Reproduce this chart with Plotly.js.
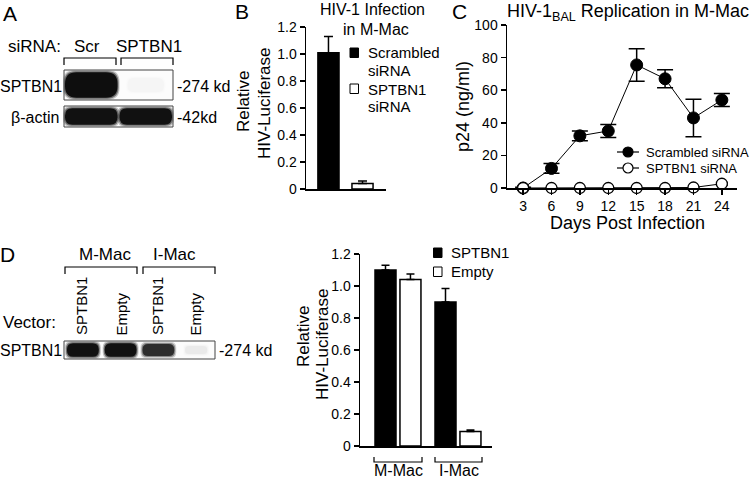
<!DOCTYPE html>
<html><head><meta charset="utf-8">
<script src="https://cdn.plot.ly/plotly-3.0.1.min.js"></script>
<style>html,body{margin:0;padding:0;background:#fff}#chart{width:752px;height:480px}</style>
</head><body><div id="chart"></div>
<script>
// ---------- data ----------
const bCategories = ['Scrambled siRNA', 'SPTBN1 siRNA'];
const bValues = [1.01, 0.04];
const bErrors = [0.12, 0.02];
const bTickVals = [0, 0.2, 0.4, 0.6, 0.8, 1.0, 1.2];
const bTickText = ['0', '0.2', '0.4', '0.6', '0.8', '1.0', '1.2'];

const cDays = [3, 6, 9, 12, 15, 18, 21, 24];
const cScrambled = [0, 12, 32, 35, 75.5, 67, 43, 54];
const cScrambledErr = [0.5, 3, 3, 4, 10, 5.5, 11.5, 4];
const cSptbn1 = [0, 0, 0, 0, 0, 0, 0.3, 2.6];
const cSptbn1Err = [0, 0, 0, 0, 0, 0, 0, 0.8];
const cTickVals = [0, 20, 40, 60, 80, 100];

const dGroups = ['M-Mac', 'I-Mac'];
const dSptbn1 = [1.10, 0.90];
const dSptbn1Err = [0.03, 0.085];
const dEmpty = [1.04, 0.09];
const dEmptyErr = [0.035, 0.01];

const blotALanes = ['Scr', 'SPTBN1'];
const blotASptbn1 = [0.95, 0.015];
const blotAActin = [0.93, 0.93];
const blotDLanes = ['SPTBN1', 'Empty', 'SPTBN1', 'Empty'];
const blotDSptbn1 = [0.93, 0.93, 0.72, 0.04];

// ---------- helpers ----------
const W = 752, H = 480;
const X = x => x / W;
const Y = y => 1 - y / H;
const FONT = 'Liberation Sans, Arial, sans-serif';
const annotations = [];
const shapes = [];
function txt(text, x, y, size, opt) {
  annotations.push(Object.assign({
    text: text, x: X(x), y: Y(y), xref: 'paper', yref: 'paper',
    showarrow: false, xanchor: 'center', yanchor: 'middle',
    font: {family: FONT, size: size, color: '#000'}
  }, opt || {}));
}
function rr(x0, y0, x1, y1, r) {
  r = Math.min(r, (x1 - x0) / 2, (y1 - y0) / 2);
  const p = (a, b) => X(a).toFixed(5) + ',' + Y(b).toFixed(5);
  return 'M' + p(x0 + r, y0) + ' L' + p(x1 - r, y0) + ' Q' + p(x1, y0) + ' ' + p(x1, y0 + r) +
    ' L' + p(x1, y1 - r) + ' Q' + p(x1, y1) + ' ' + p(x1 - r, y1) +
    ' L' + p(x0 + r, y1) + ' Q' + p(x0, y1) + ' ' + p(x0, y1 - r) +
    ' L' + p(x0, y0 + r) + ' Q' + p(x0, y0) + ' ' + p(x0 + r, y0) + ' Z';
}
function blot(x0, x1, y0, y1, intensities, pad) {
  const n = intensities.length;
  const lw = (x1 - x0) / n;
  shapes.push({type: 'rect', xref: 'paper', yref: 'paper', x0: X(x0), x1: X(x1), y0: Y(y0), y1: Y(y1),
    fillcolor: '#fcfcfc', line: {width: 0}, layer: 'below'});
  intensities.forEach((v, i) => {
    const cx = x0 + lw * (i + 0.5);
    const halfW = (lw / 2 - pad) * (v < 0.1 ? 0.7 : 1);
    const cy = (y0 + y1) / 2;
    const halfH = ((y1 - y0) / 2 - 2) * (0.55 + 0.45 * v);
    [[2.0, 0.25], [1.0, 0.5], [0, 1]].forEach(([inf, op]) => {
      shapes.push({type: 'path', xref: 'paper', yref: 'paper',
        path: rr(cx - halfW - inf, cy - halfH - inf, cx + halfW + inf, cy + halfH + inf, halfH * 0.9),
        fillcolor: 'rgba(10,10,10,' + (v * op).toFixed(3) + ')', line: {width: 0}, layer: 'below'});
    });
  });
  shapes.push({type: 'rect', xref: 'paper', yref: 'paper', x0: X(x0), x1: X(x1), y0: Y(y0), y1: Y(y1),
    fillcolor: 'rgba(0,0,0,0)', line: {color: '#444', width: 1}});
}
function bracketDown(x0, x1, yTop, yBot) {
  shapes.push({type: 'path', xref: 'paper', yref: 'paper',
    path: 'M' + X(x0) + ',' + Y(yBot) + ' L' + X(x0) + ',' + Y(yTop) + ' L' + X(x1) + ',' + Y(yTop) + ' L' + X(x1) + ',' + Y(yBot),
    line: {color: '#000', width: 1.2}});
}
function bracketUp(x0, x1, yTop, yBot) {
  shapes.push({type: 'path', xref: 'paper', yref: 'paper',
    path: 'M' + X(x0) + ',' + Y(yTop) + ' L' + X(x0) + ',' + Y(yBot) + ' L' + X(x1) + ',' + Y(yBot) + ' L' + X(x1) + ',' + Y(yTop),
    line: {color: '#000', width: 1.2}});
}

// ---------- panel A (blot) ----------
txt('A', 10, 13, 21);
txt('siRNA:', 34, 46, 17);
txt(blotALanes[0], 87, 46, 17);
txt(blotALanes[1], 149, 46, 17);
bracketDown(64, 116, 58, 65);
bracketDown(121, 173, 58, 65);
blot(64, 173, 70, 100, blotASptbn1, 1);
blot(64, 173, 106, 127, blotAActin, 1);
txt('SPTBN1', 31, 86, 16);
txt('β-actin', 35, 117, 16);
txt('-274 kd', 175, 86, 16, {xanchor: 'left'});
txt('-42kd', 175, 117, 16, {xanchor: 'left'});

// ---------- panel B ----------
txt('B', 242, 11, 21);
txt('HIV-1 Infection', 372, 9, 16);
txt('in M-Mac', 376, 29, 16);
txt('Relative', 243, 102, 17, {textangle: -90});
txt('HIV-Luciferase', 264, 103, 17, {textangle: -90});
// legend B
shapes.push({type: 'rect', xref: 'paper', yref: 'paper', x0: X(350), x1: X(358.5), y0: Y(48), y1: Y(57.5), fillcolor: '#000', line: {color: '#000', width: 1}});
shapes.push({type: 'rect', xref: 'paper', yref: 'paper', x0: X(350), x1: X(358.5), y0: Y(84), y1: Y(93.5), fillcolor: '#fff', line: {color: '#000', width: 1}});
txt('Scrambled', 366, 53, 15, {xanchor: 'left'});
txt('siRNA', 366, 70, 15, {xanchor: 'left'});
txt('SPTBN1', 366, 89, 15, {xanchor: 'left'});
txt('siRNA', 366, 106, 15, {xanchor: 'left'});

// ---------- panel C ----------
txt('C', 459, 11, 21);
txt('HIV-1<sub>BAL</sub> Replication in M-Mac', 505, 12, 18, {xanchor: 'left'});
txt('p24 (ng/ml)', 463, 107, 18, {textangle: -90});
txt('Days Post Infection', 627, 223, 18);
// legend C
[[152, '#000', 'Scrambled siRNA'], [168, '#fff', 'SPTBN1 siRNA']].forEach(([yy, fc, label]) => {
  shapes.push({type: 'line', xref: 'paper', yref: 'paper', x0: X(617), x1: X(639), y0: Y(yy), y1: Y(yy), line: {color: '#000', width: 1.2}});
  shapes.push({type: 'circle', xref: 'paper', yref: 'paper', x0: X(623), x1: X(633), y0: Y(yy - 5), y1: Y(yy + 5), fillcolor: fc, line: {color: '#000', width: 1.2}});
  txt(label, 644, yy, 13, {xanchor: 'left'});
});

// ---------- panel D (blot) ----------
txt('D', 7, 254, 21);
txt('M-Mac', 105, 254, 17);
txt('I-Mac', 174, 254, 17);
bracketDown(65, 137, 267, 274);
bracketDown(143, 215, 267, 274);
const laneCenters = [81, 121, 157, 195];
blotDLanes.forEach((l, i) => {
  txt(l, laneCenters[i], 337, 15, {textangle: -90, yanchor: 'bottom'});
});
txt('Vector:', 29, 322, 17);
blot(64, 215, 341, 359, blotDSptbn1, 3);
txt('SPTBN1', 31, 350, 16);
txt('-274 kd', 217, 350, 16, {xanchor: 'left'});

// ---------- panel D (chart) ----------
txt('Relative', 303, 337, 17, {textangle: -90});
txt('HIV-Luciferase', 322, 344, 17, {textangle: -90});
shapes.push({type: 'rect', xref: 'paper', yref: 'paper', x0: X(433.5), x1: X(442), y0: Y(248), y1: Y(257.5), fillcolor: '#000', line: {color: '#000', width: 1}});
shapes.push({type: 'rect', xref: 'paper', yref: 'paper', x0: X(433.5), x1: X(442), y0: Y(267), y1: Y(276.5), fillcolor: '#fff', line: {color: '#000', width: 1}});
txt('SPTBN1', 449, 252, 15, {xanchor: 'left'});
txt('Empty', 449, 271, 15, {xanchor: 'left'});
// group brackets below x axis
[[374, 422], [435, 482]].forEach(([a, b], i) => {
  bracketUp(a, b, 457, 462);
  txt(dGroups[i], (a + b) / 2, 470, 16);
});

// ---------- traces ----------
const axisCommon = {
  showline: true, linecolor: '#000', linewidth: 1.5, showgrid: false, zeroline: false,
  ticks: 'outside', ticklen: 5, tickwidth: 1.5, tickcolor: '#000',
  tickfont: {family: FONT, size: 14, color: '#000'}, fixedrange: true
};
const traces = [
  {type: 'bar', x: [0, 1], y: bValues, xaxis: 'x', yaxis: 'y', width: 0.62,
    name: 'B', text: bCategories, hoverinfo: 'text+y', textposition: 'none',
    marker: {color: ['#000', '#fff'], line: {color: '#000', width: 1.5}},
    error_y: {type: 'data', array: bErrors, arrayminus: [0, 0], color: '#000', thickness: 1.5, width: 4.5},
    showlegend: false},
  {type: 'scatter', mode: 'lines+markers', x: cDays, y: cScrambled, xaxis: 'x2', yaxis: 'y2',
    name: 'Scrambled siRNA', cliponaxis: false,
    line: {color: '#000', width: 1},
    marker: {color: '#000', size: 12, line: {color: '#000', width: 1}},
    error_y: {type: 'data', array: cScrambledErr, color: '#000', thickness: 1.5, width: 8},
    showlegend: false},
  {type: 'scatter', mode: 'lines+markers', x: cDays, y: cSptbn1, xaxis: 'x2', yaxis: 'y2',
    name: 'SPTBN1 siRNA', cliponaxis: false,
    line: {color: '#000', width: 1},
    marker: {color: '#fff', size: 11, line: {color: '#000', width: 1.3}},
    error_y: {type: 'data', array: cSptbn1Err, color: '#000', thickness: 1.2, width: 6},
    showlegend: false},
  {type: 'bar', x: [0, 1], y: dSptbn1, xaxis: 'x3', yaxis: 'y3', width: 0.35, offset: -0.383,
    name: 'SPTBN1', text: dGroups, hoverinfo: 'text+y+name', textposition: 'none',
    marker: {color: '#000', line: {color: '#000', width: 1.5}},
    error_y: {type: 'data', array: dSptbn1Err, arrayminus: [0, 0], color: '#000', thickness: 1.5, width: 4},
    showlegend: false},
  {type: 'bar', x: [0, 1], y: dEmpty, xaxis: 'x3', yaxis: 'y3', width: 0.35, offset: 0.033,
    name: 'Empty', text: dGroups, hoverinfo: 'text+y+name', textposition: 'none',
    marker: {color: '#fff', line: {color: '#000', width: 1.5}},
    error_y: {type: 'data', array: dEmptyErr, arrayminus: [0, 0], color: '#000', thickness: 1.5, width: 4},
    showlegend: false}
];

const layout = {
  width: W, height: H, margin: {l: 0, r: 0, t: 0, b: 0},
  paper_bgcolor: '#fff', plot_bgcolor: 'rgba(0,0,0,0)',
  font: {family: FONT, color: '#000'},
  showlegend: false, barmode: 'overlay',
  xaxis: Object.assign({}, axisCommon, {domain: [X(306), X(386)], range: [-0.66, 1.69], anchor: 'y',
    showticklabels: false, ticks: ''}),
  yaxis: Object.assign({}, axisCommon, {domain: [Y(189), Y(27)], range: [0, 1.2], anchor: 'x',
    tickvals: bTickVals, ticktext: bTickText}),
  xaxis2: Object.assign({}, axisCommon, {domain: [X(507), X(737)], range: [1.3, 25.6], anchor: 'y2',
    tickvals: cDays}),
  yaxis2: Object.assign({}, axisCommon, {domain: [Y(188), Y(25)], range: [0, 100], anchor: 'x2',
    tickvals: cTickVals}),
  xaxis3: Object.assign({}, axisCommon, {domain: [X(360), X(492)], range: [-0.633, 1.567], anchor: 'y3',
    showticklabels: false, ticks: ''}),
  yaxis3: Object.assign({}, axisCommon, {domain: [Y(446), Y(254)], range: [0, 1.2], anchor: 'x3',
    tickvals: bTickVals, ticktext: bTickText}),
  shapes: shapes,
  annotations: annotations
};
Plotly.newPlot('chart', traces, layout, {displayModeBar: false, staticPlot: true});
</script>
</body></html>
